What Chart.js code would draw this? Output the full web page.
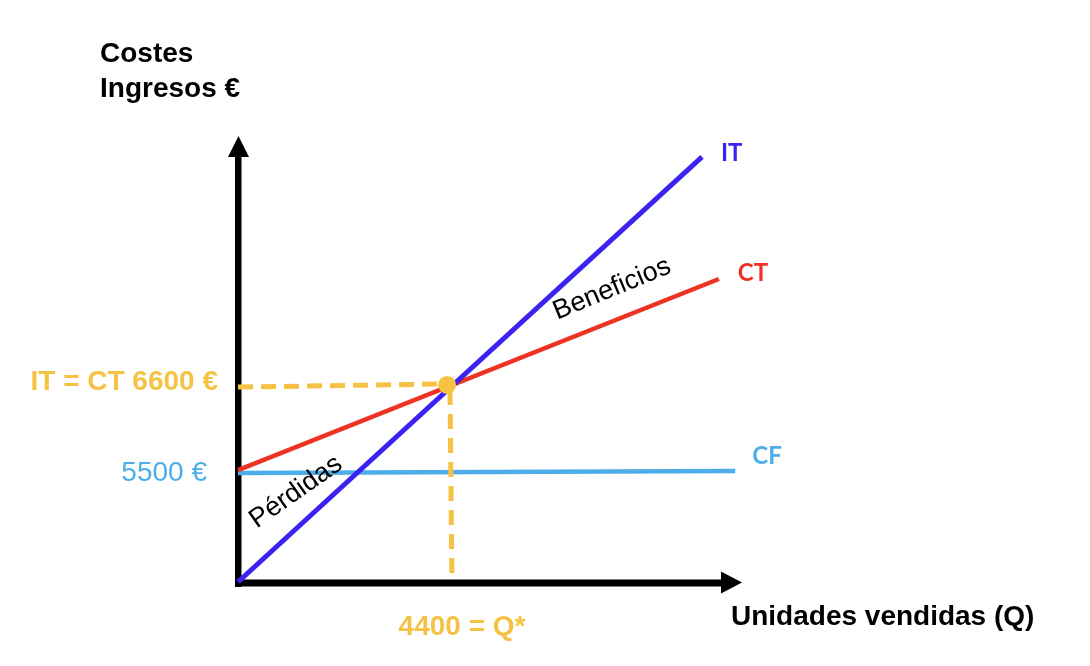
<!DOCTYPE html>
<html>
<head>
<meta charset="utf-8">
<style>
  html, body { margin: 0; padding: 0; background: #ffffff; }
  #wrap { width: 1090px; height: 666px; }
</style>
<script src="https://cdn.jsdelivr.net/npm/chart.js@4/dist/chart.umd.min.js"></script>
</head>
<body>
<div id="wrap"><canvas id="c" width="1090" height="666"></canvas></div>
<script>
// ---- Data read from the (schematic) picture, in drawing units ----
// Q = units sold (x), value = costs / income in € (y, schematic scale)
const itQ = [0, 9630];
const itValue = [0, 14240];

const ctQ = [0, 9980];
const ctValue = [3750, 10150];

const cfQ = [0, 10320];
const cfValue = [3650, 3720];

const breakEvenQ = [4340];
const breakEvenValue = [6600];

const guideHQ = [0, 4190];
const guideHValue = [6530, 6630];
const guideVQ = [4400, 4440];
const guideVValue = [6430, 0];

const seriesNames = ['IT', 'CT', 'CF'];
const yTickValues = [6600, 3650];
const yTickLabels = ['IT = CT 6600 €', '5500 €'];
const xTickValues = [4400];
const xTickLabels = ['4400 = Q*'];
const yAxisTitle = ['Costes', 'Ingresos €'];
const xAxisTitle = 'Unidades vendidas (Q)';
const regionLabels = ['Pérdidas', 'Beneficios'];

const xMax = 10460;
const yMax = 14940;

const BLUE = '#3b22f0';
const RED = '#ee3325';
const LIGHT = '#4dade8';
const ORANGE = '#f6c244';

const SANS = '"Liberation Sans", Arial, sans-serif';
const LABEL_FONT = 'Lato, "Liberation Sans", Arial, sans-serif';

function pts(xs, ys) { return xs.map((x, i) => ({ x: x, y: ys[i] })); }

const axesPlugin = {
  id: 'axesPlugin',
  beforeDatasetsDraw(chart) {
    const ctx = chart.ctx;
    const xs = chart.scales.x, ys = chart.scales.y;
    const x0 = xs.getPixelForValue(0);
    const y0 = ys.getPixelForValue(0);
    const xEnd = xs.getPixelForValue(xMax);
    const yEnd = ys.getPixelForValue(yMax);
    ctx.save();
    ctx.fillStyle = '#000';
    // y axis
    ctx.fillRect(x0 - 3, yEnd + 20, 6.5, (y0 + 5) - (yEnd + 20));
    ctx.beginPath();
    ctx.moveTo(x0 - 10, yEnd + 21);
    ctx.lineTo(x0 + 11, yEnd + 21);
    ctx.lineTo(x0 + 0.5, yEnd);
    ctx.closePath();
    ctx.fill();
    // x axis
    ctx.fillRect(x0 - 3, y0 - 2.5, (xEnd - 20) - (x0 - 3), 7);
    ctx.beginPath();
    ctx.moveTo(xEnd - 21, y0 - 10.5);
    ctx.lineTo(xEnd - 21, y0 + 11.5);
    ctx.lineTo(xEnd, y0 + 0.5);
    ctx.closePath();
    ctx.fill();
    ctx.restore();
  },
  afterDatasetsDraw(chart) {
    const ctx = chart.ctx;
    const xs = chart.scales.x, ys = chart.scales.y;
    const x0 = xs.getPixelForValue(0);
    ctx.save();
    // Axis titles
    ctx.fillStyle = '#000';
    ctx.font = 'bold 28px ' + SANS;
    ctx.textAlign = 'left';
    ctx.textBaseline = 'alphabetic';
    ctx.fillText(yAxisTitle[0], 100, 62);
    ctx.fillText(yAxisTitle[1], 100, 97);
    ctx.fillText(xAxisTitle, 731, 625);

    // y tick labels
    ctx.textAlign = 'right';
    ctx.textBaseline = 'middle';
    ctx.fillStyle = ORANGE;
    ctx.font = 'bold 28px ' + SANS;
    ctx.fillText(yTickLabels[0], x0 - 20, ys.getPixelForValue(yTickValues[0]) - 3);
    ctx.fillStyle = LIGHT;
    ctx.font = '28px ' + SANS;
    ctx.fillText(yTickLabels[1], x0 - 31, ys.getPixelForValue(yTickValues[1]));

    // x tick label
    ctx.textAlign = 'center';
    ctx.fillStyle = ORANGE;
    ctx.font = 'bold 28px ' + SANS;
    ctx.fillText(xTickLabels[0], xs.getPixelForValue(xTickValues[0]) + 12, 627);

    // series labels at line ends
    ctx.font = 'bold 24px ' + LABEL_FONT;
    ctx.textAlign = 'left';
    const ends = [
      [itQ[1], itValue[1], BLUE, 19, -4],
      [ctQ[1], ctValue[1], RED, 19, -6],
      [cfQ[1], cfValue[1], LIGHT, 17, -15]
    ];
    ends.forEach((e, i) => {
      ctx.fillStyle = e[2];
      ctx.fillText(seriesNames[i], xs.getPixelForValue(e[0]) + e[3], ys.getPixelForValue(e[1]) + e[4]);
    });

    // region labels
    ctx.fillStyle = '#000';
    ctx.font = '27px ' + SANS;
    ctx.textAlign = 'center';
    ctx.textBaseline = 'middle';
    ctx.save();
    ctx.translate(296, 492);
    ctx.rotate(-35 * Math.PI / 180);
    ctx.fillText(regionLabels[0], 0, 0);
    ctx.restore();
    ctx.save();
    ctx.translate(612, 289);
    ctx.rotate(-22.5 * Math.PI / 180);
    ctx.fillText(regionLabels[1], 0, 0);
    ctx.restore();

    ctx.restore();
  }
};

function build() {
  new Chart(document.getElementById('c'), {
    type: 'line',
    data: {
      datasets: [
        { label: 'Q*', data: pts(breakEvenQ, breakEvenValue), showLine: false, pointRadius: 9, pointBackgroundColor: ORANGE, pointBorderWidth: 0, borderColor: ORANGE, order: 0, clip: false },
        { label: 'IT', data: pts(itQ, itValue), borderColor: BLUE, borderWidth: 5, pointRadius: 0, order: 1, clip: false },
        { label: 'CT', data: pts(ctQ, ctValue), borderColor: RED, borderWidth: 4.5, pointRadius: 0, order: 2, clip: false },
        { label: 'guideH', data: pts(guideHQ, guideHValue), borderColor: ORANGE, borderWidth: 5, borderDash: [15, 8], pointRadius: 0, order: 3, clip: false },
        { label: 'guideV', data: pts(guideVQ, guideVValue), borderColor: ORANGE, borderWidth: 5, borderDash: [15, 9], pointRadius: 0, order: 4, clip: false },
        { label: 'CF', data: pts(cfQ, cfValue), borderColor: LIGHT, borderWidth: 4.5, pointRadius: 0, order: 5, clip: false }
      ]
    },
    options: {
      responsive: false,
      animation: false,
      events: [],
      layout: { padding: { left: 238, right: 1090 - 742, top: 136, bottom: 666 - 582 } },
      plugins: { legend: { display: false }, tooltip: { enabled: false }, title: { display: false } },
      scales: {
        x: { type: 'linear', min: 0, max: xMax, display: false },
        y: { type: 'linear', min: 0, max: yMax, display: false }
      }
    },
    plugins: [axesPlugin]
  });
}

const fontLoads = [
  'bold 24px Lato', 'bold 28px "Liberation Sans"', '28px "Liberation Sans"', '27px "Liberation Sans"'
].map(f => document.fonts.load(f).catch(() => null));
Promise.all(fontLoads).then(build, build);
</script>
</body>
</html>
